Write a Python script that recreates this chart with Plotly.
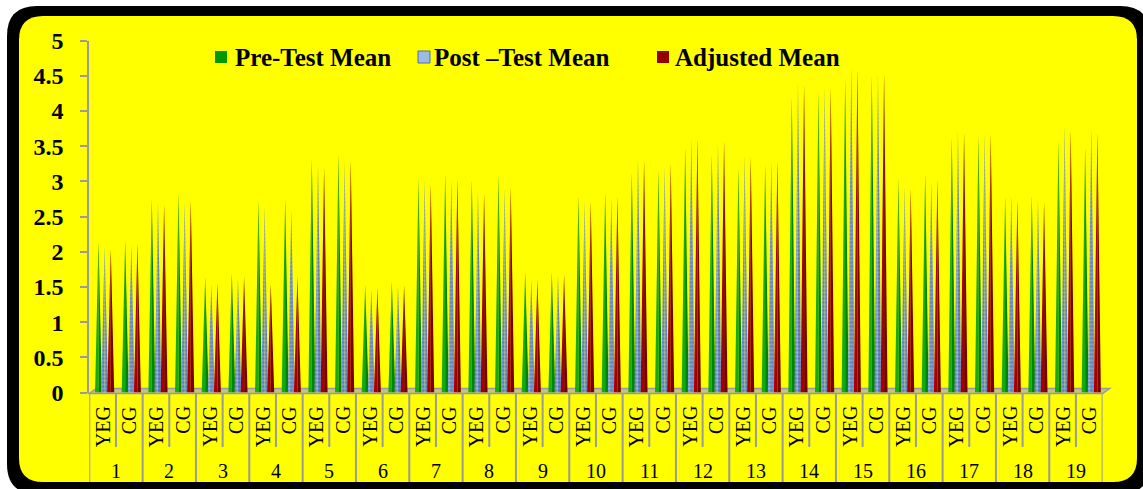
import plotly.graph_objects as go

# ---- data -------------------------------------------------------------
items = [str(i) for i in range(1, 20)]
groups = ["YEG", "CG"]

# one value per (item, group): YEG, CG, YEG, CG, ...
pre_test = [2.15, 2.17, 2.76, 2.84, 1.64, 1.70, 2.73, 2.76, 3.33, 3.40,
            1.53, 1.58, 3.05, 3.12, 3.03, 3.10, 1.72, 1.72, 2.81, 2.86,
            3.14, 3.17, 3.50, 3.40, 3.21, 3.25, 4.22, 4.28, 4.47, 4.52,
            3.05, 3.12, 3.64, 3.66, 2.79, 2.81, 3.59, 3.50]
post_test = [2.09, 2.10, 2.72, 2.72, 1.54, 1.63, 2.65, 2.60, 3.26, 3.29,
             1.47, 1.53, 3.03, 3.03, 2.86, 2.91, 1.61, 1.68, 2.72, 2.77,
             3.36, 3.22, 3.62, 3.57, 3.38, 3.29, 4.42, 4.35, 4.64, 4.54,
             2.93, 3.00, 3.74, 3.69, 2.81, 2.77, 3.81, 3.76]
adjusted = [2.05, 2.13, 2.68, 2.74, 1.56, 1.65, 1.55, 1.65, 3.21, 3.31,
            1.49, 1.53, 2.98, 3.05, 2.84, 2.93, 1.61, 1.68, 2.72, 2.79,
            3.31, 3.26, 3.62, 3.59, 3.36, 3.31, 4.40, 4.35, 4.61, 4.56,
            2.91, 3.03, 3.71, 3.69, 2.74, 2.72, 3.74, 3.71]

series_names = ["Pre-Test Mean", "Post \u2013Test Mean", "Adjusted Mean"]
y_ticks = [0, 0.5, 1, 1.5, 2, 2.5, 3, 3.5, 4, 4.5, 5]

# ---- page geometry (pixels) ---------------------------------------------
W, H = 1143, 489
PLOT_L, PLOT_R = 89.3, 1102.6
PLOT_T, PLOT_B = 40.5, 392.5
SERIF = "Liberation Serif, Times New Roman, serif"
GRID = "#9a9a9a"


def fx(px):
    return px / W


def fy(py):
    return 1 - py / H


def rounded_rect(x0, y0, x1, y1, r):
    rx, ry = r / W, r / H
    a, b, c, d = fx(x0), fy(y0), fx(x1), fy(y1)
    return (f"M {a + rx},{b} L {c - rx},{b} Q {c},{b} {c},{b - ry} "
            f"L {c},{d + ry} Q {c},{d} {c - rx},{d} L {a + rx},{d} "
            f"Q {a},{d} {a},{d + ry} L {a},{b - ry} Q {a},{b} {a + rx},{b} Z")


n_cat = len(items) * len(groups)
labels = [g for _ in items for g in groups]

# ---- cones ----------------------------------------------------------------
SHIFT = 0.075
STEP = 0.23
HALF = 0.13


def cone_halves(values, offset):
    lx, ly, rx, ry = [], [], [], []
    for i, v in enumerate(values):
        c = i + SHIFT + offset
        lx += [c - HALF, c, c, None]
        ly += [0, v, 0, None]
        rx += [c, c, c + HALF, None]
        ry += [0, v, 0, None]
    return lx, ly, rx, ry


fig = go.Figure()

styles = [
    dict(left="#14aa14", right="#008400", pattern=None),
    dict(left="#9db9e8", right="#85a4da", pattern="#1f3f7a"),
    dict(left="#a40000", right="#780000", pattern=None),
]
for k, (vals, st) in enumerate(zip([pre_test, post_test, adjusted], styles)):
    lx, ly, rx, ry = cone_halves(vals, (k - 1) * STEP)
    for xs, ys, col in ((lx, ly, st["left"]), (rx, ry, st["right"])):
        kw = dict(x=xs, y=ys, mode="lines", fill="toself", fillcolor=col,
                  line=dict(width=0, color=col), hoverinfo="skip",
                  showlegend=False, name=series_names[k])
        if st["pattern"]:
            kw["fillpattern"] = dict(shape=".", fgcolor=st["pattern"],
                                     bgcolor=col, size=4, solidity=0.55)
        fig.add_trace(go.Scatter(**kw))

# ---- frame, floor and category table ---------------------------------------
shapes = [
    dict(type="path", xref="paper", yref="paper", layer="below",
         path=rounded_rect(7, 6, 1150, 494, 30), fillcolor="black",
         line=dict(width=0)),
    dict(type="path", xref="paper", yref="paper", layer="below",
         path=rounded_rect(19, 16, 1137, 482, 24), fillcolor="#ffff00",
         line=dict(width=0)),
    dict(type="path", xref="paper", yref="paper", layer="below",
         path=(f"M {fx(PLOT_L)},{fy(393.5)} L {fx(PLOT_R)},{fy(393.5)} "
               f"L {fx(PLOT_R + 7)},{fy(388.5)} L {fx(PLOT_L + 7)},{fy(388.5)} Z"),
         fillcolor="#c4c47a", line=dict(color=GRID, width=1.5)),
]
for k in range(n_cat + 1):
    bottom = 482 if k % 2 == 0 else 447
    shapes.append(dict(type="line", xref="x", yref="paper",
                       x0=k - 0.5, x1=k - 0.5, y0=fy(393.5), y1=fy(bottom),
                       line=dict(color=GRID, width=2)))

annotations = []
for i, lab in enumerate(labels):
    annotations.append(dict(x=i, y=fy(404), xref="x", yref="paper",
                            text=lab, textangle=-90, showarrow=False,
                            xanchor="center", yanchor="top",
                            font=dict(family=SERIF, size=20, color="black")))
for j, it in enumerate(items):
    annotations.append(dict(x=2 * j + 0.5, y=fy(471), xref="x", yref="paper",
                            text=it, showarrow=False, xanchor="center",
                            yanchor="middle",
                            font=dict(family=SERIF, size=20, color="black")))

# ---- legend ----------------------------------------------------------------
legend_items = [
    (series_names[0], "#009a00", None, 215, 233),
    (series_names[1], "#9db9e8", "#4f6f9f", 418, 432),
    (series_names[2], "#950000", None, 657, 673),
]
for name, col, edge, sx, tx in legend_items:
    shapes.append(dict(type="rect", xref="paper", yref="paper",
                       x0=fx(sx), x1=fx(sx + 12), y0=fy(51), y1=fy(63),
                       fillcolor=col,
                       line=dict(width=1 if edge else 0, color=edge or col)))
    annotations.append(dict(x=fx(tx), y=fy(57), xref="paper", yref="paper",
                            text=name, showarrow=False, xanchor="left",
                            yanchor="middle",
                            font=dict(family=SERIF, size=25, color="black",
                                      weight="bold")))

fig.update_layout(
    width=W, height=H,
    margin=dict(l=0, r=0, t=0, b=0, pad=0, autoexpand=False),
    paper_bgcolor="white",
    plot_bgcolor="rgba(0,0,0,0)",
    showlegend=False,
    shapes=shapes,
    annotations=annotations,
    xaxis=dict(domain=[fx(PLOT_L), fx(PLOT_R)], range=[-0.5, n_cat - 0.5],
               showticklabels=False, showgrid=False, zeroline=False,
               showline=False, ticks="", fixedrange=True, automargin=False),
    yaxis=dict(domain=[fy(PLOT_B), fy(PLOT_T)], range=[0, 5],
               tickvals=y_ticks, ticktext=[f"{t:g}" for t in y_ticks],
               ticks="outside", ticklen=7, tickwidth=2, tickcolor=GRID,
               showline=True, linecolor=GRID, linewidth=2,
               showgrid=False, zeroline=False, ticklabelstandoff=12,
               automargin=False,
               tickfont=dict(family=SERIF, size=24, color="black",
                             weight="bold"),
               fixedrange=True),
)

fig.write_html("out.html")
